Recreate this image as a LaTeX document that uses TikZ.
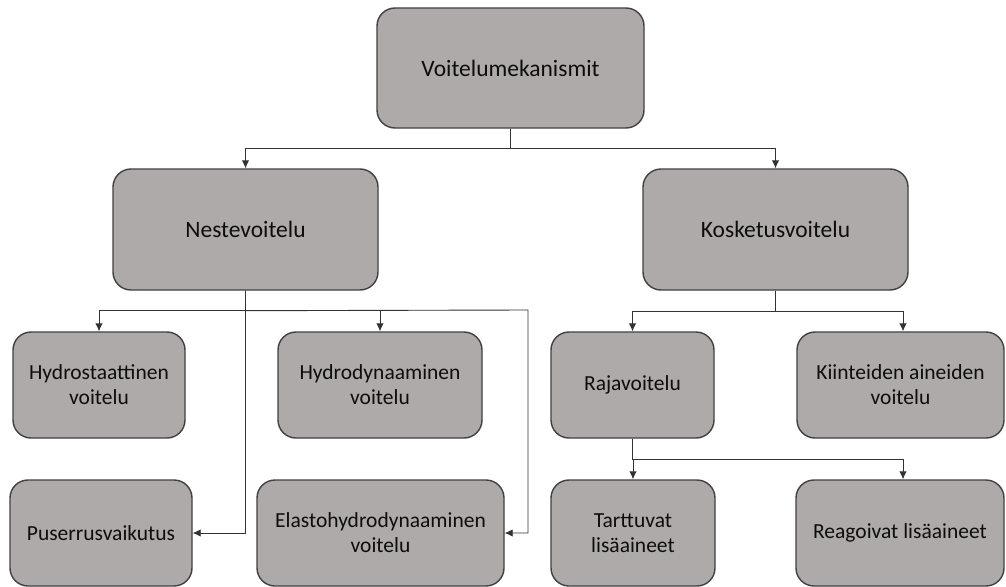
\documentclass[tikz,border=0pt]{standalone}
\usepackage{fontspec}
\setmainfont{Carlito}
\usetikzlibrary{arrows.meta}
\definecolor{boxgray}{HTML}{AEAAAA}
\definecolor{boxline}{HTML}{404040}
\begin{document}
\begin{tikzpicture}[x=1pt,y=-1pt,
        >={Latex[length=8pt,width=7.5pt]},
        mech/.style={draw=boxline,line width=1.4pt,fill=boxgray,rounded corners=18pt,
            align=center,inner sep=0pt,font=\fontsize{21.5}{25}\selectfont,text=black!95},
        bigmech/.style={mech,font=\fontsize{23.5}{29}\selectfont},
        link/.style={->,line width=0.9pt,black!80}]
    \useasboundingbox (0,0) rectangle (1006,586);
    %% Top level
    \node[bigmech,minimum width=267pt,minimum height=120pt] (voitelu) at (510.5,68) {Voitelumekanismit};
    %% Second level
    \node[bigmech,minimum width=265pt,minimum height=121pt] (neste) at (245.5,229.5) {Nestevoitelu};
    \node[bigmech,minimum width=265pt,minimum height=121pt] (kosketus) at (775.5,229.5) {Kosketusvoitelu};
    %% Third level
    \node[mech,minimum width=172pt,minimum height=106pt] (hydrostat) at (99,385) {Hydrostaattinen\\voitelu};
    \node[mech,minimum width=204pt,minimum height=106pt] (hydrodyn) at (380,385) {Hydrodynaaminen\\voitelu};
    \node[mech,minimum width=163pt,minimum height=106pt] (raja) at (632.5,385) {Rajavoitelu};
    \node[mech,minimum width=207pt,minimum height=106pt] (kiint) at (900.5,385) {Kiinteiden aineiden\\voitelu};
    %% Bottom level
    \node[mech,minimum width=182pt,minimum height=106pt] (puserrus) at (101,533) {Puserrusvaikutus};
    \node[mech,minimum width=247pt,minimum height=106pt] (elasto) at (380.5,533) {Elastohydrodynaaminen\\voitelu};
    \node[mech,minimum width=164pt,minimum height=106pt] (tarttuvat) at (633,533) {Tarttuvat\\lisäaineet};
    \node[mech,minimum width=208pt,minimum height=106pt] (reagoivat) at (900,533) {Reagoivat lisäaineet};
    %% Connectors
    \coordinate (ehdbend) at (528,310);
    \draw[link] (voitelu.south) -- ++(0,20) -| (neste.north);
    \draw[link] (voitelu.south) -- ++(0,20) -| (kosketus.north);
    \draw[link] (neste.south) -- ++(0,20) -| (hydrostat.north);
    \draw[link] (neste.south) -- ++(0,20) -| (hydrodyn.north);
    \draw[link] (neste.south) -- ++(0,20) -- (ehdbend) |- (elasto.east);
    \draw[link] (neste.south) |- (puserrus.east);
    \draw[link] (kosketus.south) -- ++(0,21) -| (raja.north);
    \draw[link] (kosketus.south) -- ++(0,21) -| ([xshift=2.5pt]kiint.north);
    \draw[link] (raja.south) -- ++(0,21) -| (tarttuvat.north);
    \draw[link] (raja.south) -- ++(0,21) -| ([xshift=3pt]reagoivat.north);
\end{tikzpicture}
\end{document}
